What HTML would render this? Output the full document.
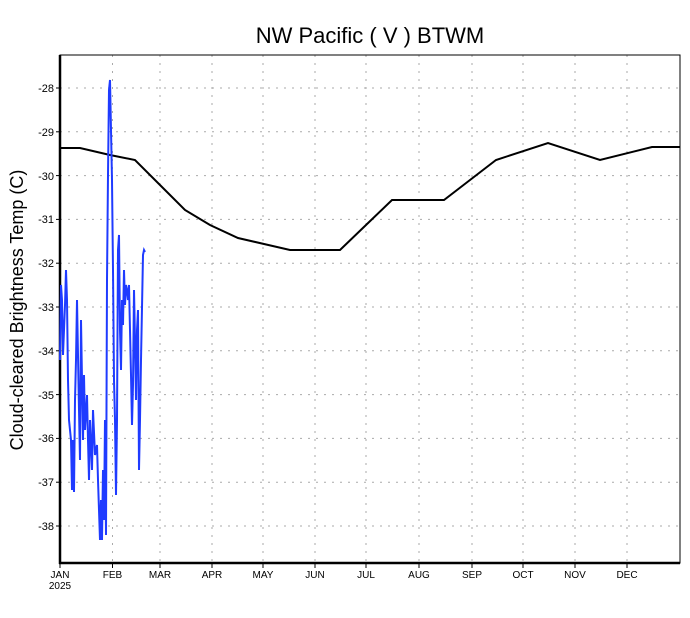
<!DOCTYPE html>
<html><head><style>body{margin:0;background:#fff}svg{display:block}text{font-family:"Liberation Sans","DejaVu Sans",sans-serif}</style></head><body>
<svg width="690" height="618" viewBox="0 0 690 618" xmlns="http://www.w3.org/2000/svg">
<rect width="690" height="618" fill="#fff"/>
<g stroke="#aaa" stroke-width="1" stroke-dasharray="2,6">
<line x1="60" y1="88" x2="680" y2="88"/><line x1="60" y1="131.8" x2="680" y2="131.8"/><line x1="60" y1="175.6" x2="680" y2="175.6"/><line x1="60" y1="219.4" x2="680" y2="219.4"/><line x1="60" y1="263.2" x2="680" y2="263.2"/><line x1="60" y1="307" x2="680" y2="307"/><line x1="60" y1="350.8" x2="680" y2="350.8"/><line x1="60" y1="394.6" x2="680" y2="394.6"/><line x1="60" y1="438.4" x2="680" y2="438.4"/><line x1="60" y1="482.2" x2="680" y2="482.2"/><line x1="60" y1="526" x2="680" y2="526"/>
<line x1="112.5" y1="55" x2="112.5" y2="563"/><line x1="160" y1="55" x2="160" y2="563"/><line x1="212" y1="55" x2="212" y2="563"/><line x1="263" y1="55" x2="263" y2="563"/><line x1="315" y1="55" x2="315" y2="563"/><line x1="366" y1="55" x2="366" y2="563"/><line x1="419" y1="55" x2="419" y2="563"/><line x1="472" y1="55" x2="472" y2="563"/><line x1="523" y1="55" x2="523" y2="563"/><line x1="575" y1="55" x2="575" y2="563"/><line x1="627" y1="55" x2="627" y2="563"/>
</g>
<rect x="60" y="55" width="620" height="508" fill="none" stroke="#000" stroke-width="1"/>
<line x1="60" y1="55" x2="60" y2="564" stroke="#000" stroke-width="2.5"/>
<line x1="59" y1="563" x2="680" y2="563" stroke="#000" stroke-width="2.5"/>
<g stroke="#000" stroke-width="1">
<line x1="56" y1="88" x2="60" y2="88"/><line x1="56" y1="131.8" x2="60" y2="131.8"/><line x1="56" y1="175.6" x2="60" y2="175.6"/><line x1="56" y1="219.4" x2="60" y2="219.4"/><line x1="56" y1="263.2" x2="60" y2="263.2"/><line x1="56" y1="307" x2="60" y2="307"/><line x1="56" y1="350.8" x2="60" y2="350.8"/><line x1="56" y1="394.6" x2="60" y2="394.6"/><line x1="56" y1="438.4" x2="60" y2="438.4"/><line x1="56" y1="482.2" x2="60" y2="482.2"/><line x1="56" y1="526" x2="60" y2="526"/>
<line x1="60" y1="563" x2="60" y2="568"/><line x1="112.5" y1="563" x2="112.5" y2="568"/><line x1="160" y1="563" x2="160" y2="568"/><line x1="212" y1="563" x2="212" y2="568"/><line x1="263" y1="563" x2="263" y2="568"/><line x1="315" y1="563" x2="315" y2="568"/><line x1="366" y1="563" x2="366" y2="568"/><line x1="419" y1="563" x2="419" y2="568"/><line x1="472" y1="563" x2="472" y2="568"/><line x1="523" y1="563" x2="523" y2="568"/><line x1="575" y1="563" x2="575" y2="568"/><line x1="627" y1="563" x2="627" y2="568"/>
</g>
<g font-size="11" text-anchor="end">
<text x="54" y="92">-28</text><text x="54" y="136">-29</text><text x="54" y="180">-30</text><text x="54" y="223">-31</text><text x="54" y="267">-32</text><text x="54" y="311">-33</text><text x="54" y="355">-34</text><text x="54" y="399">-35</text><text x="54" y="442">-36</text><text x="54" y="486">-37</text><text x="54" y="530">-38</text>
</g>
<g font-size="10" text-anchor="middle">
<text x="60" y="578">JAN</text><text x="60" y="589">2025</text><text x="112.5" y="578">FEB</text><text x="160" y="578">MAR</text><text x="212" y="578">APR</text><text x="263" y="578">MAY</text><text x="315" y="578">JUN</text><text x="366" y="578">JUL</text><text x="419" y="578">AUG</text><text x="472" y="578">SEP</text><text x="523" y="578">OCT</text><text x="575" y="578">NOV</text><text x="627" y="578">DEC</text>
</g>
<text x="370" y="43" font-size="22" text-anchor="middle">NW Pacific ( V ) BTWM</text>
<text transform="translate(23,310) rotate(-90)" font-size="18" text-anchor="middle">Cloud-cleared Brightness Temp (C)</text>
<polyline fill="none" stroke="#000" stroke-width="2" points="60,148 80,148 110,155 135,160 160,185 185,210 210,225 238,238 290,250 340,250 366,225 392,200 444,200 470,180 496,160 548,143 600,160 652,147 680,147"/>
<polyline fill="none" stroke="#1f3bff" stroke-width="2" points="60,360 61,285 62,300 63,355 65,305 66,270 67,300 68,380 69,420 71,440 72,490 73,440 74,492 75,400 76,360 77,300 79,410 80,460 81,320 82,380 83,440 84,375 85,430 87,395 88,440 89,480 90,420 92,470 93,410 95,455 97,445 98,480 99,510 100,540 101,500 102,540 103,470 104,520 105,420 106,535 107,280 108,175 109,90 110,80 111,130 112,180 113,270 114,380 115,420 116,495 117,420 118,250 119,235 120,330 121,370 122,300 123,325 124,270 125,305 126,285 127,290 128,300 129,285 130,330 131,375 132,425 133,385 134,290 135,340 136,400 137,330 138,310 139,470 140,420 141,360 143,255 144,250 145,252"/>
</svg>
</body></html>
